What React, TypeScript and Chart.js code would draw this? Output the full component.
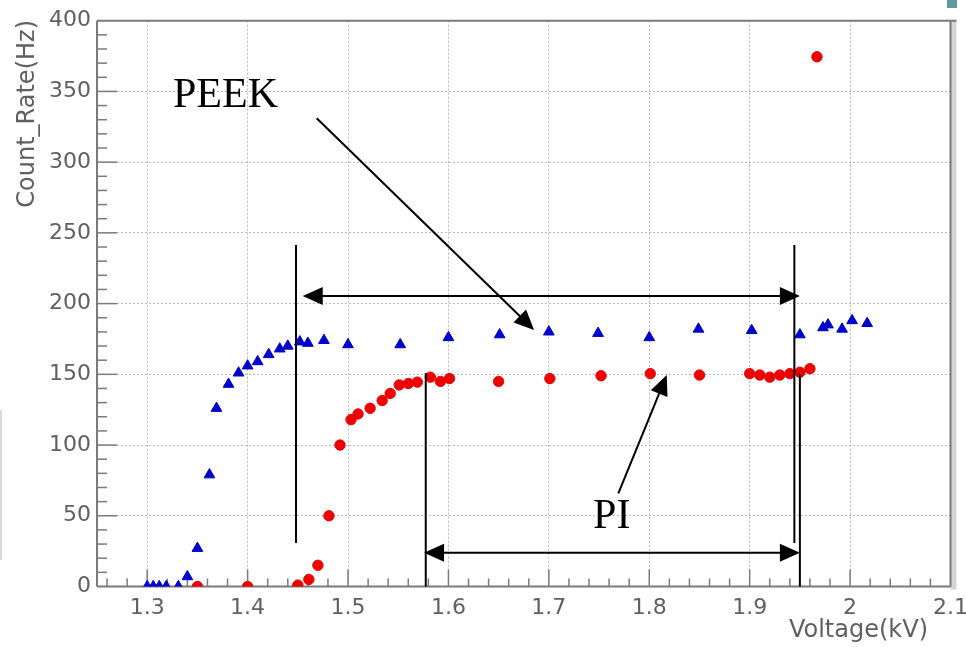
import { useEffect, useRef } from "react";
import { Chart, registerables } from "chart.js";

Chart.register(...registerables);

// ---------- data ----------
const peekVoltage = [
  1.300, 1.306, 1.312, 1.319, 1.331, 1.340, 1.350, 1.362, 1.369, 1.381,
  1.391, 1.400, 1.410, 1.421, 1.432, 1.440, 1.452, 1.460, 1.476, 1.500,
  1.552, 1.600, 1.651, 1.700, 1.749, 1.800, 1.849, 1.902, 1.950, 1.973,
  1.978, 1.992, 2.002, 2.017,
];
const peekRate = [
  0, 0, 0, 0, 0, 7, 27, 79, 126, 143,
  151, 156, 159, 164, 168, 170, 173, 172, 174, 171,
  171, 176, 178, 180, 179, 176, 182, 181, 178, 183,
  185, 182, 188, 186,
];
const piVoltage = [
  1.350, 1.400, 1.450, 1.461, 1.470, 1.481, 1.492, 1.503, 1.510, 1.522,
  1.534, 1.542, 1.551, 1.560, 1.569, 1.582, 1.592, 1.601, 1.650, 1.701,
  1.752, 1.801, 1.850, 1.900, 1.910, 1.920, 1.930, 1.940, 1.950, 1.960,
  1.967,
];
const piRate = [
  0, 0, 1, 5, 15, 50, 100, 118, 122, 126,
  131.5, 136.5, 142.5, 143.5, 144.5, 148, 145, 147, 145, 147,
  149, 150.5, 149.5, 150.5, 149.5, 148, 149.5, 150.5, 151.5, 154,
  374.5,
];

const xTickValues = [1.3, 1.4, 1.5, 1.6, 1.7, 1.8, 1.9, 2.0, 2.1];
const yTickValues = [0, 50, 100, 150, 200, 250, 300, 350, 400];
const xTitle = "Voltage(kV)";
const yTitle = "Count_Rate(Hz)";
const peekLabel = "PEEK";
const piLabel = "PI";

// annotation geometry in data units
const peekBracket = { left: 1.4482, right: 1.9445, top: 241.4, bottom: 30.7, arrowY: 205.4, tipL: 1.4549, tipR: 1.95 };
const piBracket = { left: 1.5774, right: 1.95, top: 150.9, bottom: 0, arrowY: 23.9, tipL: 1.5757, tipR: 1.95 };
const peekPointer = { x0: 1.4688, y0: 331, x1: 1.6853, y1: 181.4 };
const piPointer = { x0: 1.7692, y0: 65.9, x1: 1.8174, y1: 149.5 };
const peekTextPos = { x: 1.3257, y: 339 };
const piTextPos = { x: 1.744, y: 41.4 };

const AXIS_GRAY = "#7a7a7a";
const TEXT_GRAY = "#606060";
const SANS = "'DejaVu Sans', sans-serif";

function arrowHead(ctx: CanvasRenderingContext2D, fx: number, fy: number, tx: number, ty: number, len = 20, half = 9) {
  const a = Math.atan2(ty - fy, tx - fx);
  ctx.beginPath();
  ctx.moveTo(tx, ty);
  ctx.lineTo(tx - len * Math.cos(a) + half * Math.sin(a), ty - len * Math.sin(a) - half * Math.cos(a));
  ctx.lineTo(tx - len * Math.cos(a) - half * Math.sin(a), ty - len * Math.sin(a) + half * Math.cos(a));
  ctx.closePath();
  ctx.fill();
}

function line(ctx: CanvasRenderingContext2D, x0: number, y0: number, x1: number, y1: number) {
  ctx.beginPath();
  ctx.moveTo(x0, y0);
  ctx.lineTo(x1, y1);
  ctx.stroke();
}

const framePlugin = {
  id: "rootFrame",
  beforeDatasetsDraw(chart: any) {
    const { ctx, chartArea: a, scales } = chart;
    const xs = scales.x, ys = scales.y;
    ctx.save();
    // right shadow band
    ctx.fillStyle = "#d4d4d4";
    ctx.fillRect(a.right, a.top, 6, a.bottom - a.top + 3);
    ctx.strokeStyle = AXIS_GRAY;
    ctx.lineWidth = 2;
    line(ctx, a.left, a.top, a.right + 6, a.top);
    line(ctx, a.right, a.top, a.right, a.bottom);
    line(ctx, a.left, a.top, a.left, a.bottom);
    line(ctx, a.left, a.bottom, a.right, a.bottom);
    // inner ticks
    ctx.lineWidth = 1.5;
    for (let v = 1.26; v < 2.1 - 1e-6; v += 0.02) {
      const px = xs.getPixelForValue(v);
      const major = Math.abs(v * 10 - Math.round(v * 10)) < 1e-6;
      line(ctx, px, a.bottom, px, a.bottom - (major ? 17 : 8));
    }
    for (let v = 10; v < 400; v += 10) {
      const py = ys.getPixelForValue(v);
      const major = v % 50 === 0;
      line(ctx, a.left, py, a.left + (major ? 20 : 10), py);
    }
    ctx.restore();
  },
  afterDraw(chart: any) {
    const { ctx, scales } = chart;
    const X = (v: number) => scales.x.getPixelForValue(v);
    const Y = (v: number) => scales.y.getPixelForValue(v);
    ctx.save();
    // axis titles
    ctx.fillStyle = TEXT_GRAY;
    ctx.font = `24px ${SANS}`;
    ctx.textAlign = "right";
    ctx.textBaseline = "alphabetic";
    ctx.fillText(xTitle, 928, 637);
    ctx.save();
    ctx.translate(34, 20);
    ctx.rotate(-Math.PI / 2);
    ctx.textAlign = "right";
    ctx.fillText(yTitle, 0, 0);
    ctx.restore();

    // annotations
    ctx.strokeStyle = "#000";
    ctx.fillStyle = "#000";
    ctx.lineWidth = 2;
    for (const b of [peekBracket, piBracket]) {
      line(ctx, X(b.left), Y(b.top), X(b.left), Y(b.bottom));
      line(ctx, X(b.right), Y(b.top), X(b.right), Y(b.bottom));
      line(ctx, X(b.tipL) + 15, Y(b.arrowY), X(b.tipR) - 15, Y(b.arrowY));
      arrowHead(ctx, X(b.tipR), Y(b.arrowY), X(b.tipL), Y(b.arrowY));
      arrowHead(ctx, X(b.tipL), Y(b.arrowY), X(b.tipR), Y(b.arrowY));
    }
    for (const p of [peekPointer, piPointer]) {
      const x0 = X(p.x0), y0 = Y(p.y0), x1 = X(p.x1), y1 = Y(p.y1);
      const ang = Math.atan2(y1 - y0, x1 - x0);
      line(ctx, x0, y0, x1 - 15 * Math.cos(ang), y1 - 15 * Math.sin(ang));
      arrowHead(ctx, x0, y0, x1, y1);
    }
    ctx.font = "42px 'Liberation Serif', 'Times New Roman', serif";
    ctx.textAlign = "left";
    ctx.textBaseline = "alphabetic";
    ctx.fillText(peekLabel, X(peekTextPos.x), Y(peekTextPos.y));
    ctx.fillText(piLabel, X(piTextPos.x), Y(piTextPos.y));
    ctx.restore();
  },
};

export default function App() {
  const ref = useRef<HTMLCanvasElement | null>(null);
  useEffect(() => {
    if (!ref.current) return;
    const chart = new Chart(ref.current, {
      type: "scatter",
      data: {
        datasets: [
          {
            label: peekLabel,
            data: peekVoltage.map((x, i) => ({ x, y: peekRate[i] })),
            pointStyle: "triangle",
            pointRadius: 6.2,
            backgroundColor: "#0000cc",
            borderColor: "#0000cc",
            borderWidth: 1,
          },
          {
            label: piLabel,
            data: piVoltage.map((x, i) => ({ x, y: piRate[i] })),
            pointStyle: "circle",
            pointRadius: 5.2,
            backgroundColor: "#ee0000",
            borderColor: "#ee0000",
            borderWidth: 1,
          },
        ],
      },
      options: {
        animation: false,
        responsive: true,
        maintainAspectRatio: false,
        layout: { padding: { left: 0, top: 20.7, right: 15.5, bottom: 0 } },
        plugins: { legend: { display: false }, tooltip: { enabled: false } },
        scales: {
          x: {
            type: "linear",
            min: 1.25,
            max: 2.1,
            afterBuildTicks: (s: any) => {
              s.ticks = xTickValues.map((value) => ({ value }));
            },
            afterFit: (s: any) => {
              s.height = 60.5;
              s.paddingLeft = 0;
              s.paddingRight = 0;
            },
            grid: { color: "#b8b8b8", lineWidth: 1, drawTicks: false },
            border: { display: false, dash: [2, 2] },
            ticks: {
              padding: 9,
              color: TEXT_GRAY,
              font: { family: SANS, size: 22 },
              maxRotation: 0,
              autoSkip: false,
              callback: (v: any) => String(Math.round(Number(v) * 10) / 10),
            },
          },
          y: {
            type: "linear",
            min: 0,
            max: 400,
            afterBuildTicks: (s: any) => {
              s.ticks = yTickValues.map((value) => ({ value }));
            },
            afterFit: (s: any) => {
              s.width = 97;
              s.paddingTop = 0;
              s.paddingBottom = 0;
            },
            grid: { color: "#b8b8b8", lineWidth: 1, drawTicks: false },
            border: { display: false, dash: [2, 2] },
            ticks: {
              padding: 6,
              color: TEXT_GRAY,
              font: { family: SANS, size: 22 },
              autoSkip: false,
              callback: (v: any) => String(v),
            },
          },
        },
      },
      plugins: [framePlugin],
    });
    return () => chart.destroy();
  }, []);
  return (
    <div style={{ position: "fixed", left: 0, top: 0, width: 966, height: 647, background: "#fff" }}>
      <canvas ref={ref} />
      <div style={{ position: "absolute", left: 947, top: 0, width: 10, height: 8, background: "#5f9a9a" }} />
      <div style={{ position: "absolute", left: 0, top: 410, width: 2, height: 150, background: "#d8d8d8" }} />
    </div>
  );
}
